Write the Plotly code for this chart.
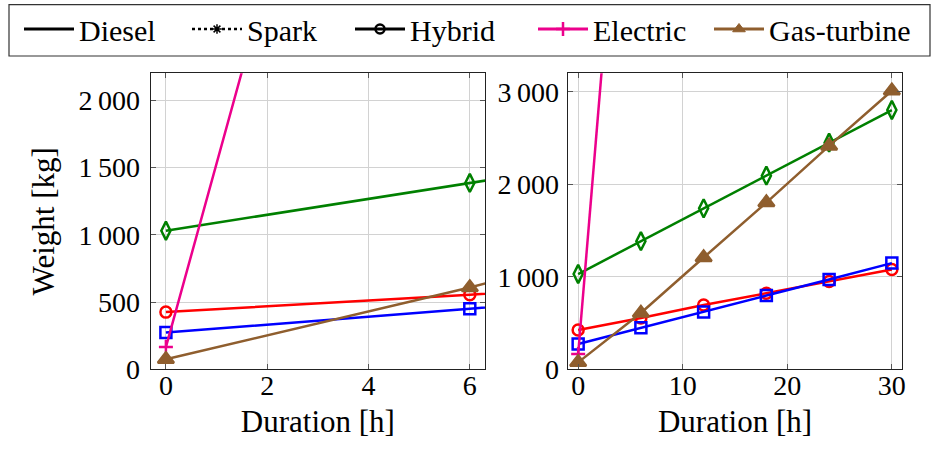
import plotly.graph_objects as go

# ---- data ----
duration_h = [0, 6, 12, 18, 24, 30]
green_kg = [1030, 1385, 1740, 2093, 2450, 2803]
red_kg = [425, 555, 695, 822, 950, 1078]
blue_kg = [273, 450, 620, 797, 970, 1148]
magenta_kg = [165, 8350, 16500, 24700, 32900, 41000]
brown_kg = [75, 608, 1208, 1802, 2415, 3012]

legend_names = ["Diesel", "Spark", "Hybrid", "Electric", "Gas-turbine"]

left_xticks = [0, 2, 4, 6]
left_yticks = [0, 500, 1000, 1500, 2000]
right_xticks = [0, 10, 20, 30]
right_yticks = [0, 1000, 2000, 3000]


def fmt(v):
    return f"{v:,}".replace(",", "\u2009")


FONT = "Liberation Serif"
GREEN = "#008000"
RED = "#ff0000"
BLUE = "#0000ff"
MAGENTA = "#ec008c"
BROWN = "#8f5e2e"

series = [
    (green_kg, GREEN, "diamond-tall-open", 13),
    (red_kg, RED, "circle-open", 11),
    (blue_kg, BLUE, "square-open", 11),
    (magenta_kg, MAGENTA, "cross-thin-open", 10),
    (brown_kg, BROWN, "triangle-up", 14),
]

fig = go.Figure()
for xa, ya in (("x", "y"), ("x2", "y2")):
    for vals, col, sym, sz in series:
        fig.add_trace(go.Scatter(
            x=duration_h, y=vals, xaxis=xa, yaxis=ya, mode="lines+markers",
            line=dict(color=col, width=2.5),
            marker=dict(symbol=sym, size=sz, color=col,
                        line=dict(color=col, width=2.5)),
            showlegend=False, hoverinfo="skip"))

# legend-only entries (styles as drawn in the reference legend)
leg_styles = [
    dict(line=dict(color="black", width=3), mode="lines", marker=None),
    dict(line=dict(color="black", width=2.5, dash="dot"), mode="lines+markers",
         marker=dict(symbol="asterisk-open", size=8, color="black",
                     line=dict(color="black", width=1.5))),
    dict(line=dict(color="black", width=3), mode="lines+markers",
         marker=dict(symbol="circle-open", size=9, color="black",
                     line=dict(color="black", width=2.5))),
    dict(line=dict(color=MAGENTA, width=3), mode="lines+markers",
         marker=dict(symbol="cross-thin-open", size=10, color=MAGENTA,
                     line=dict(color=MAGENTA, width=2.5))),
    dict(line=dict(color=BROWN, width=3), mode="lines+markers",
         marker=dict(symbol="triangle-up", size=11, color=BROWN,
                     line=dict(color=BROWN, width=1))),
]
ITEMW = 50
leg_text_px = [79, 247, 410, 593, 769]
legend_layout = {}
for i, (name, st) in enumerate(zip(legend_names, leg_styles)):
    lname = "legend" if i == 0 else f"legend{i+1}"
    kw = dict(x=[None], y=[None], name=name, mode=st["mode"], line=st["line"],
              showlegend=True, legend=lname, xaxis="x", yaxis="y")
    if st["marker"] is not None:
        kw["marker"] = st["marker"]
    fig.add_trace(go.Scatter(**kw))
    legend_layout[lname] = dict(
        x=(leg_text_px[i] - ITEMW - 10) / 932, xanchor="left",
        y=1 - 29 / 450, yanchor="middle",
        bgcolor="rgba(0,0,0,0)", borderwidth=0, itemwidth=ITEMW,
        font=dict(family=FONT, size=30, color="black"))

W, H = 932, 450
common_axis = dict(
    showgrid=True, gridcolor="#d2d2d2", gridwidth=1,
    showline=True, linecolor="#222222", linewidth=1, mirror="ticks",
    ticks="inside", ticklen=5, tickcolor="#555555", tickwidth=1,
    zeroline=False, automargin=False,
    tickfont=dict(family=FONT, size=28, color="black"),
    title_font=dict(family=FONT, size=31, color="black"))

fig.update_layout(
    width=W, height=H, margin=dict(l=0, r=0, t=0, b=0, autoexpand=False),
    paper_bgcolor="white", plot_bgcolor="white",
    xaxis=dict(common_axis, domain=[150.7 / W, 485 / W], range=[-0.3, 6.3],
               tickvals=left_xticks, ticktext=[fmt(v) for v in left_xticks],
               anchor="y", ticklabelstandoff=-9,
               title=dict(text="Duration [h]", standoff=10)),
    yaxis=dict(common_axis, domain=[1 - 369.3 / H, 1 - 73.3 / H], range=[0, 2200],
               tickvals=left_yticks, ticktext=[fmt(v) for v in left_yticks],
               anchor="x", ticklabelstandoff=4,
               title=dict(text="Weight [kg]", standoff=14)),
    xaxis2=dict(common_axis, domain=[567.7 / W, 902.3 / W], range=[-1, 31],
                tickvals=right_xticks, ticktext=[fmt(v) for v in right_xticks],
                anchor="y2", ticklabelstandoff=-9,
                title=dict(text="Duration [h]", standoff=10)),
    yaxis2=dict(common_axis, domain=[1 - 369.3 / H, 1 - 73.3 / H], range=[0, 3200],
                tickvals=right_yticks, ticktext=[fmt(v) for v in right_yticks],
                anchor="x2", ticklabelstandoff=2),
    shapes=[dict(type="rect", xref="paper", yref="paper",
                 x0=9 / W, x1=930 / W, y0=1 - 56 / H, y1=1 - 4.7 / H,
                 line=dict(color="#333333", width=1.2), fillcolor="rgba(0,0,0,0)")],
    **legend_layout,
)

fig.write_html("out.html")
